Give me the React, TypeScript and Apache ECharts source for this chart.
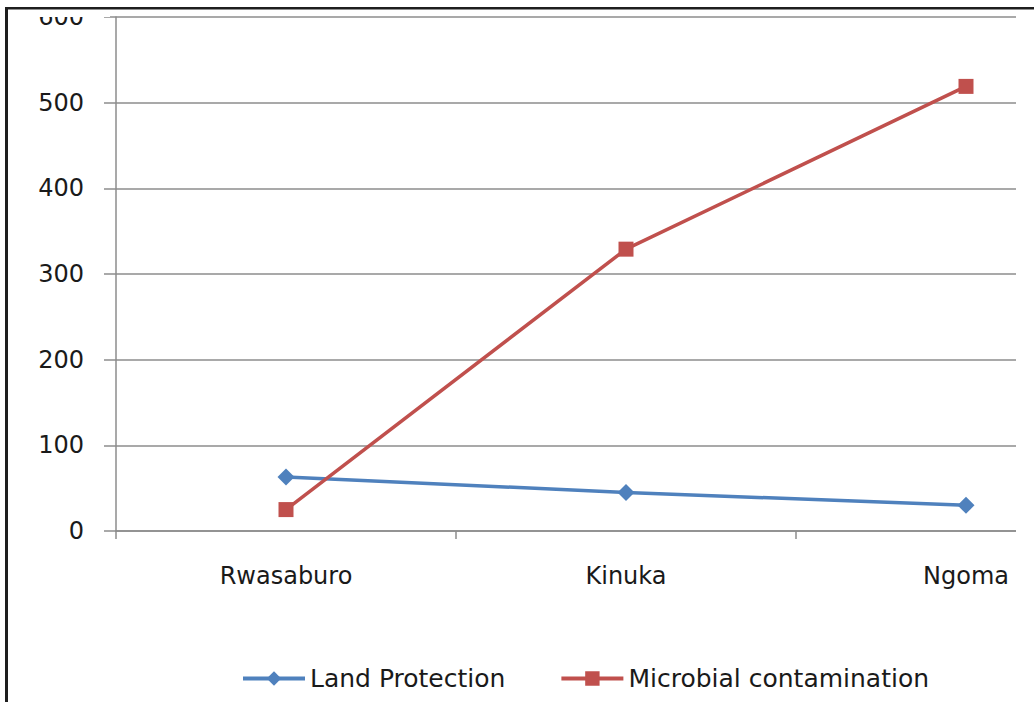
import React, { useEffect, useRef } from "react";
import * as echarts from "echarts";

const categories = ["Rwasaburo", "Kinuka", "Ngoma"];
const landProtection = [63, 45, 30];
const microbialContamination = [25, 329, 519];
const seriesNames = ["Land Protection", "Microbial contamination"];

export default function App() {
  const ref = useRef<HTMLDivElement>(null);
  useEffect(() => {
    if (!ref.current) return;
    const chart = echarts.init(ref.current, null, { renderer: "svg" });
    const font = "DejaVu Sans";
    chart.setOption({
      animation: false,
      backgroundColor: "#ffffff",
      textStyle: { fontFamily: font },
      grid: { left: 116, top: 17, width: 1020, height: 514, containLabel: false },
      legend: {
        left: 236,
        top: 661,
        itemWidth: 62,
        itemHeight: 18,
        itemGap: 54,
        lineStyle: { width: 4 },
        textStyle: { fontSize: 25, color: "#1a1a1a", fontFamily: font },
        data: seriesNames,
      },
      xAxis: {
        type: "category",
        data: categories,
        boundaryGap: true,
        axisLine: { show: true, lineStyle: { color: "#8c8c8c", width: 1.5 } },
        axisTick: { show: true, length: 8, lineStyle: { color: "#8c8c8c", width: 1.5 } },
        axisLabel: { fontSize: 24, color: "#1a1a1a", margin: 33, fontFamily: font },
        splitLine: { show: false },
      },
      yAxis: {
        type: "value",
        min: 0,
        max: 600,
        interval: 100,
        axisLine: { show: true, lineStyle: { color: "#8c8c8c", width: 1.5 } },
        axisTick: { show: true, length: 12, lineStyle: { color: "#8c8c8c", width: 1.5 } },
        axisLabel: { fontSize: 24, color: "#1a1a1a", margin: 32, fontFamily: font },
        splitLine: { show: true, lineStyle: { color: "#8c8c8c", width: 1.5 } },
      },
      series: [
        {
          name: seriesNames[0],
          type: "line",
          data: landProtection,
          symbol: "diamond",
          symbolSize: 17,
          lineStyle: { color: "#4F81BD", width: 3.5 },
          itemStyle: { color: "#4F81BD" },
        },
        {
          name: seriesNames[1],
          type: "line",
          data: microbialContamination,
          symbol: "rect",
          symbolSize: 15,
          lineStyle: { color: "#C0504D", width: 3.5 },
          itemStyle: { color: "#C0504D" },
        },
      ],
      graphic: [
        { type: "rect", z: 100, shape: { x: 1016, y: 10, width: 200, height: 700 }, style: { fill: "#ffffff" } },
        { type: "rect", z: 100, shape: { x: 20, y: 9, width: 90, height: 8 }, style: { fill: "#ffffff" } },
        { type: "rect", z: 101, shape: { x: 5, y: 7, width: 1100, height: 2.5 }, style: { fill: "#1e1e1e" } },
        { type: "rect", z: 101, shape: { x: 5, y: 7, width: 3, height: 700 }, style: { fill: "#1e1e1e" } },
      ],
    });
    return () => chart.dispose();
  }, []);
  return (
    <div style={{ position: "absolute", left: 0, top: 0, width: 1034, height: 702, overflow: "hidden" }}>
      <div ref={ref} style={{ width: 1200, height: 702 }} />
    </div>
  );
}
